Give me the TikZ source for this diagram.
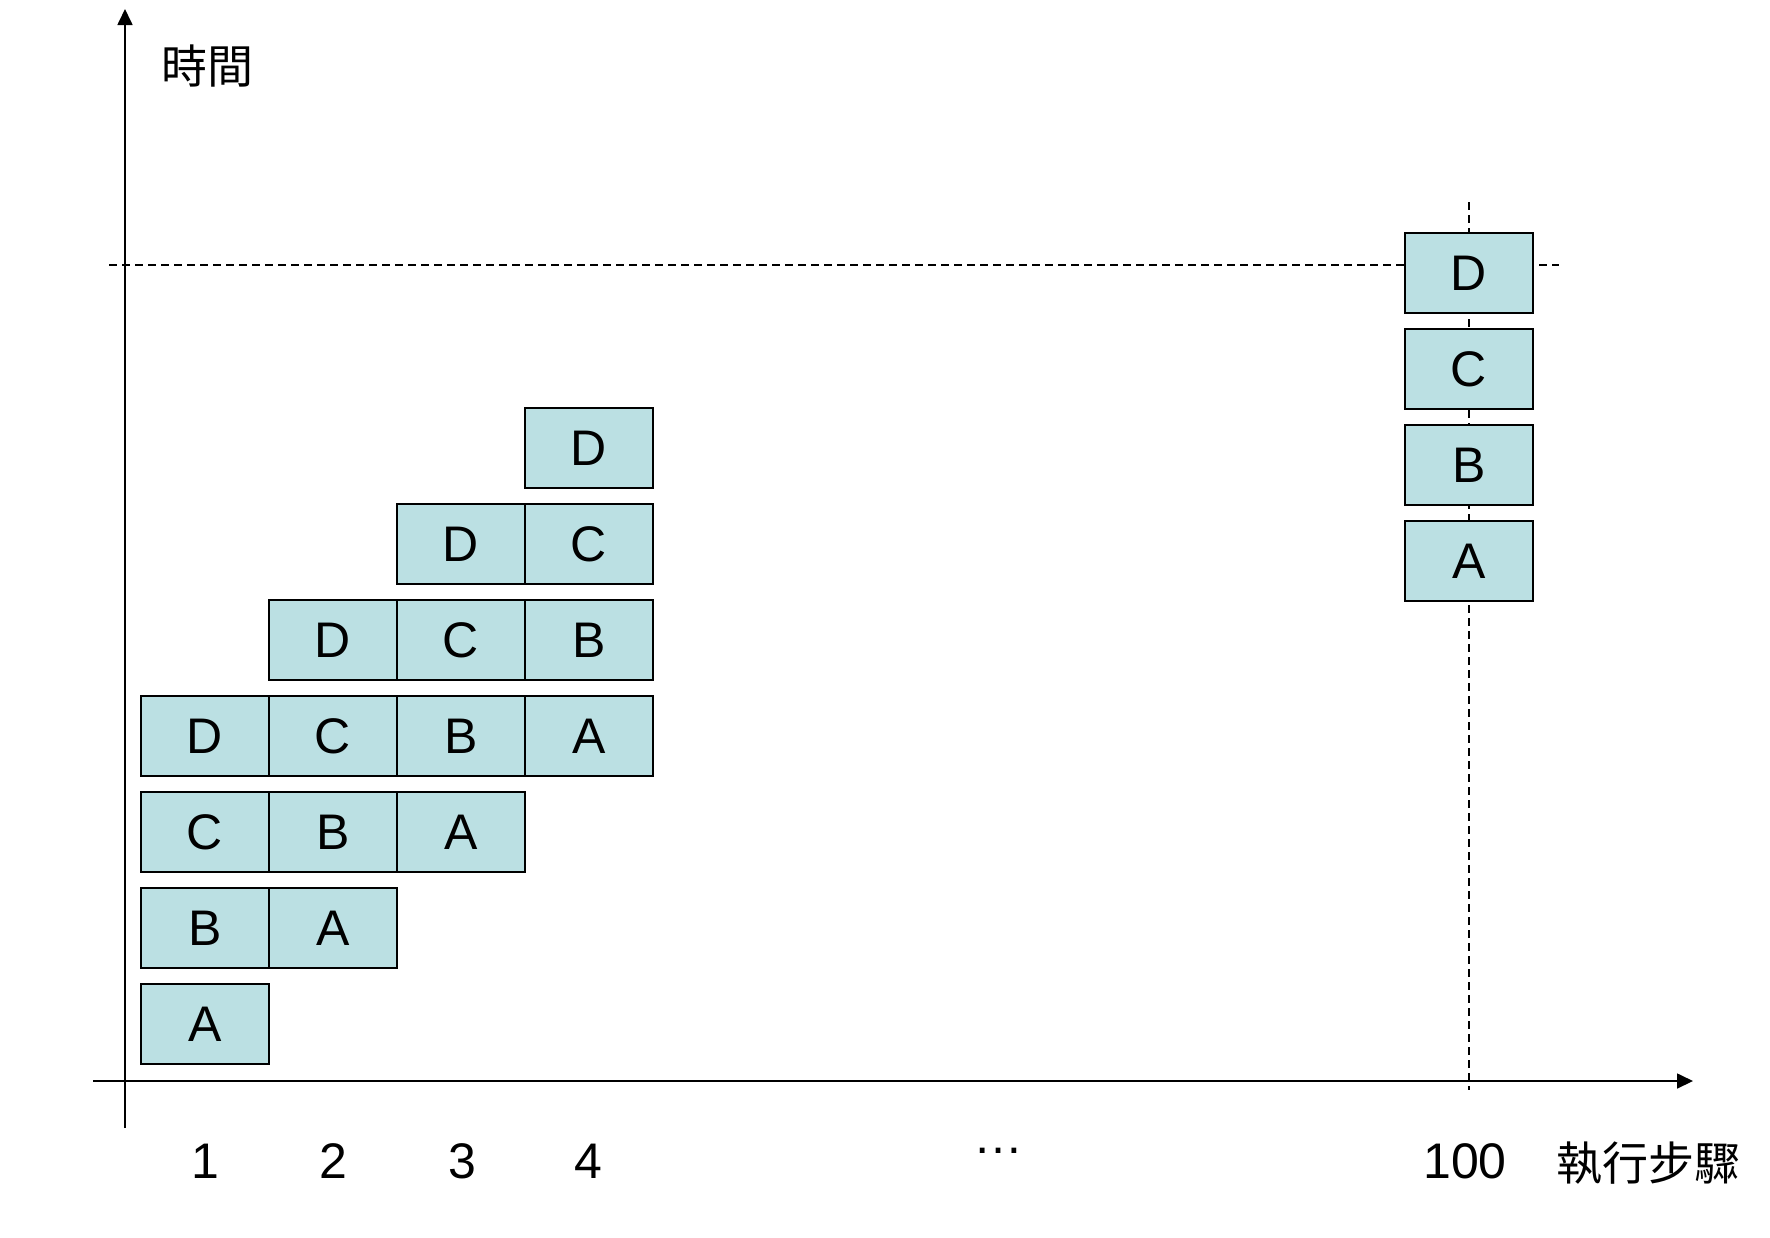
\documentclass[tikz,border=0pt]{standalone}
\usepackage{fontspec}
\setmainfont{Liberation Sans}
\newfontfamily\cjk{Noto Sans CJK TC}
\usetikzlibrary{arrows.meta}
\definecolor{boxfill}{HTML}{BBE0E3}
\tikzset{
  cell/.style={draw=black, fill=boxfill, line width=0.85pt, minimum width=64pt, minimum height=40pt, inner sep=0pt, font=\fontsize{25}{30}\selectfont},
  axisline/.style={line width=0.85pt, -{Triangle[length=8pt,width=7.5pt]}},
  guide/.style={line width=0.75pt, dash pattern=on 4pt off 2.5pt},
  lbl/.style={inner sep=0pt, anchor=base, font=\fontsize{25}{30}\selectfont},
  cjklbl/.style={inner sep=0pt, font=\cjk\fontsize{23}{28}\selectfont}
}
\begin{document}
\begin{tikzpicture}[x=0.5pt,y=-0.5pt]
\useasboundingbox (0,0) rectangle (1770,1237);
% guides
\coordinate (hl) at (109,265);
\coordinate (hr) at (1559,265);
\coordinate (vt) at (1469,202);
\coordinate (vb) at (1469,1090);
\draw[guide] (hl) -- (hr);
\draw[guide] (vt) -- (vb);
% axes
\coordinate (yb) at (125,1128);
\coordinate (yt) at (125,9);
\coordinate (xl) at (93,1081);
\coordinate (xr) at (1693,1081);
\draw[axisline] (yb) -- (yt);
\draw[axisline] (xl) -- (xr);
% left grid
\node[cell] (r0c0) at (205,1024) {A};
\node[cell] (r1c0) at (205,928) {B};
\node[cell] (r1c1) at (333,928) {A};
\node[cell] (r2c0) at (205,832) {C};
\node[cell] (r2c1) at (333,832) {B};
\node[cell] (r2c2) at (461,832) {A};
\node[cell] (r3c0) at (205,736) {D};
\node[cell] (r3c1) at (333,736) {C};
\node[cell] (r3c2) at (461,736) {B};
\node[cell] (r3c3) at (589,736) {A};
\node[cell] (r4c1) at (333,640) {D};
\node[cell] (r4c2) at (461,640) {C};
\node[cell] (r4c3) at (589,640) {B};
\node[cell] (r5c2) at (461,544) {D};
\node[cell] (r5c3) at (589,544) {C};
\node[cell] (r6c3) at (589,448) {D};
% right column
\node[cell] (kD) at (1469,273) {D};
\node[cell] (kC) at (1469,369) {C};
\node[cell] (kB) at (1469,465) {B};
\node[cell] (kA) at (1469,561) {A};
% labels
\node[cjklbl] (tlabel) at (207,66) {時間};
\node[lbl] (n1) at (205,1178) {1};
\node[lbl] (n2) at (333,1178) {2};
\node[lbl] (n3) at (462,1178) {3};
\node[lbl] (n4) at (588,1178) {4};
\node[lbl] (dots) at (998,1153) {…};
\node[lbl] (n100) at (1465,1178) {100};
\node[cjklbl] (slabel) at (1648,1163) {執行步驟};
\end{tikzpicture}
\end{document}
